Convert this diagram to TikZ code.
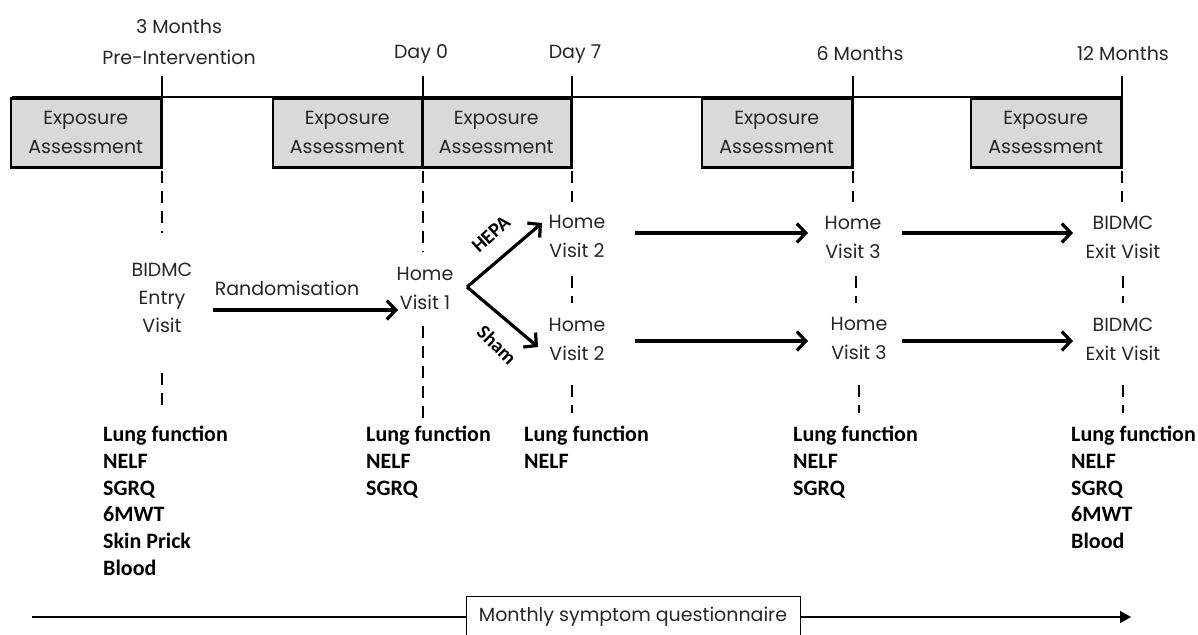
\documentclass[tikz,border=0pt]{standalone}
\usepackage{fontspec}
\setmainfont{Poppins}
\newfontfamily\boldfont{Carlito}
\usetikzlibrary{arrows.meta}
\begin{document}
\begin{tikzpicture}[x=1pt,y=-1pt,
  every node/.style={font=\fontsize{19}{29}\selectfont, text=black!85},
  expbox/.style={draw=black, line width=2.5pt, fill=black!15, align=center, inner sep=0pt,
    minimum width=150pt, minimum height=69pt, anchor=north east},
  toplbl/.style={align=center, inner sep=1pt},
  visit/.style={align=center, inner sep=2pt},
  meas/.style={align=left, anchor=north west, inner sep=0pt,
    font=\boldfont\bfseries\fontsize{22}{26.7}\selectfont, text=black},
  armlbl/.style={font=\boldfont\bfseries\fontsize{20}{20}\selectfont, text=black, inner sep=0pt},
  tickline/.style={line width=2.5pt},
  dsh/.style={line width=2.5pt, dash pattern=on 12pt off 8pt},
  bigarrow/.style={line width=3.2pt, -{Straight Barb[length=9pt,width=19pt]}},
  qbox/.style={draw=black, line width=1pt, fill=white, minimum width=334pt, minimum height=42pt, inner sep=0pt}
]
\path[use as bounding box] (0,0) rectangle (1198,634);

% timeline
\coordinate (tl0) at (12,97);
\coordinate (tl1) at (1122,97);
\draw[line width=1.2pt] (tl0) -- (tl1);

% exposure boxes
\node[expbox] (b1) at (162,97) {Exposure\\Assessment};
\node[expbox, minimum width=149pt] (b2) at (423,97) {Exposure\\Assessment};
\node[expbox, minimum width=149pt] (b3) at (572,97) {Exposure\\Assessment};
\node[expbox] (b4) at (853,97) {Exposure\\Assessment};
\node[expbox] (b5) at (1122,97) {Exposure\\Assessment};

% ticks
\coordinate (t1) at (162,76);
\coordinate (t2) at (423,76);
\coordinate (t3) at (572,76);
\coordinate (t4) at (853,76);
\coordinate (t5) at (1122,76);
\draw[tickline] (t1) -- (b1.south east);
\draw[tickline] (t2) -- (b2.south east);
\draw[tickline] (t3) -- (b3.south east);
\draw[tickline] (t4) -- (b4.south east);
\draw[tickline] (t5) -- (b5.south east);

% top labels
\node[toplbl, font=\fontsize{19}{31}\selectfont] (l1) at (179,42) {3 Months\\Pre-Intervention};
\node[toplbl] (l2) at (421,54) {Day 0};
\node[toplbl] (l3) at (575,54) {Day 7};
\node[toplbl] (l4) at (860,54) {6 Months};
\node[toplbl] (l5) at (1123,54) {12 Months};

% visits
\node[visit, font=\fontsize{19}{28}\selectfont] (entry) at (162,298) {BIDMC\\Entry\\Visit};
\node[visit] (hv1) at (425,288) {Home\\Visit 1};
\node[visit] (hv2a) at (577,236) {Home\\Visit 2};
\node[visit] (hv2b) at (577,339) {Home\\Visit 2};
\node[visit] (hv3a) at (853,237) {Home\\Visit 3};
\node[visit] (hv3b) at (859,338) {Home\\Visit 3};
\node[visit] (exa) at (1123,237) {BIDMC\\Exit Visit};
\node[visit] (exb) at (1123,339) {BIDMC\\Exit Visit};

% dashed lines
\draw[dsh] (162,171) -- (162,233);
\draw[dsh] (162,373) -- (162,412);
\draw[dsh] (423,171) -- (423,252);
\draw[dsh] (423,326) -- (423,418);
\draw[dsh] (572,171) -- (572,202);
\draw[dsh] (572,276) -- (572,303);
\draw[dsh] (572,385) -- (572,413);
\draw[dsh] (853,171) -- (853,202);
\draw[dsh] (856,276) -- (856,303);
\draw[dsh] (859,385) -- (859,413);
\draw[dsh] (1122,171) -- (1122,202);
\draw[dsh] (1123,276) -- (1123,303);
\draw[dsh] (1123,385) -- (1123,413);

% arrows
\coordinate (rs) at (213,310);
\coordinate (re) at (398,310);
\draw[bigarrow] (rs) -- (re);
\node[inner sep=0pt] (rand) at (287,288) {Randomisation};

\coordinate (fork) at (467,287);
\coordinate (hepaend) at (542,223);
\coordinate (shamend) at (538,347);
\draw[bigarrow] (fork) -- (hepaend);
\draw[bigarrow] (fork) -- (shamend);
\node[armlbl, rotate=42] (hepa) at (491,234) {HEPA};
\node[armlbl, rotate=-45] (sham) at (497,345) {Sham};

\coordinate (a1s) at (635,233);
\coordinate (a1e) at (808,233);
\coordinate (a2s) at (635,341);
\coordinate (a2e) at (808,341);
\coordinate (a3s) at (902,233);
\coordinate (a3e) at (1073,233);
\coordinate (a4s) at (902,341);
\coordinate (a4e) at (1073,341);
\draw[bigarrow] (a1s) -- (a1e);
\draw[bigarrow] (a2s) -- (a2e);
\draw[bigarrow] (a3s) -- (a3e);
\draw[bigarrow] (a4s) -- (a4e);

% measurement lists
\node[meas] (m1) at (103,426) {Lung function\\NELF\\SGRQ\\6MWT\\Skin Prick\\Blood};
\node[meas] (m2) at (366,426) {Lung function\\NELF\\SGRQ};
\node[meas] (m3) at (524,426) {Lung function\\NELF};
\node[meas] (m4) at (793,426) {Lung function\\NELF\\SGRQ};
\node[meas] (m5) at (1071,426) {Lung function\\NELF\\SGRQ\\6MWT\\Blood};

% bottom questionnaire line
\node[qbox] (q) at (633,617) {Monthly symptom questionnaire};
\coordinate (qs) at (32,617);
\coordinate (qe) at (1131,617);
\draw[line width=1.5pt] (qs) -- (q.west);
\draw[line width=1.5pt, -{Triangle[length=11pt,width=12pt]}] (q.east) -- (qe);
\end{tikzpicture}
\end{document}
